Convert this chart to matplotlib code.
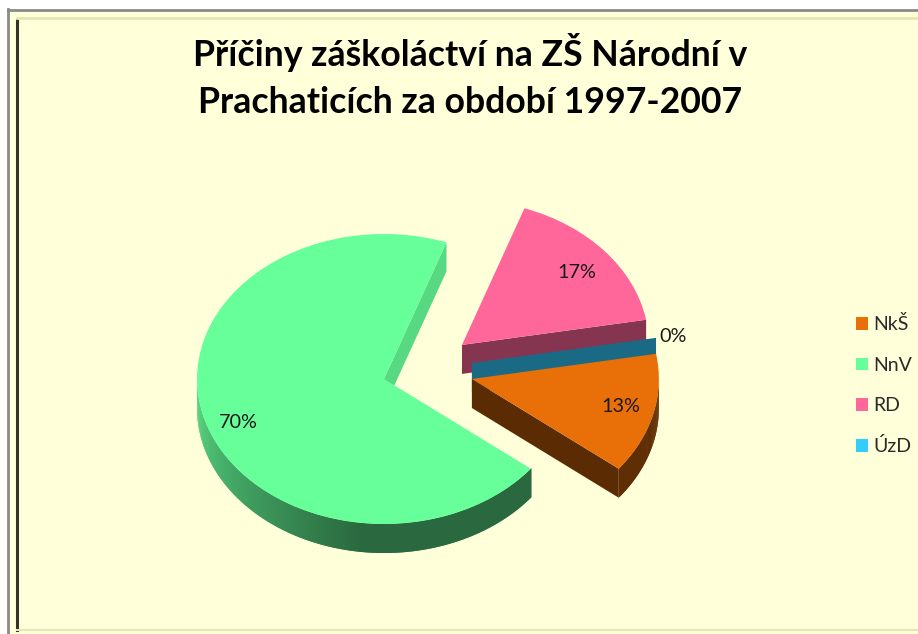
import matplotlib
matplotlib.use('Agg')
import matplotlib.pyplot as plt
import numpy as np
from matplotlib.patches import Patch, Rectangle, Polygon
from matplotlib.lines import Line2D

labels = ['NkŠ', 'NnV', 'RD', 'ÚzD']
shares = [13.4, 69.8, 16.8, 0]
title = 'Příčiny záškoláctví na ZŠ Národní v\nPrachaticích za období 1997-2007'

colors = ['#E97009', '#66FF99', '#FF6699', '#33CCFF']
wall_shade = [0.39, 0.85, 0.52, 0.52]
# slice offset from the pie centre, in pie radii (x, y)
offsets = [(0.47, 0.0), (0.0, 0.0), (0.417, 0.235), (0.47, 0.11)]
draw_order = [1, 2, 3, 0]
label_pos = [(621, 406), (238, 422), (577, 273), (673, 336)]

W, H = 918, 634
CX, CY, RX, RY = 384, 379, 187, 145
DEPTH = 29 / RY
BG = '#FFFFD9'

plt.rcParams['font.family'] = ['Lato', 'DejaVu Sans']
fig = plt.figure(figsize=(W / 100, H / 100), dpi=100, facecolor='white')


def fx(px):
    return px / W


def fy(py):
    return 1 - py / H


# window frame
fig.add_artist(Rectangle((fx(8), 0), 1, fy(9), transform=fig.transFigure, fc=BG, ec='none', zorder=-5))
fig.add_artist(Line2D([fx(8), fx(8)], [0, fy(9)], color='#8A8A8A', lw=2, zorder=-4))
fig.add_artist(Line2D([fx(8), 1], [fy(10), fy(10)], color='#8A8A8A', lw=2, zorder=-4))
fig.add_artist(Line2D([fx(17), fx(17)], [fy(630), fy(20)], color='#33332A', lw=2.2, zorder=-4))
fig.add_artist(Line2D([fx(17), 1], [fy(18), fy(18)], color='#E6E6B4', lw=2, zorder=-4))
fig.add_artist(Line2D([fx(17), 1], [fy(630), fy(630)], color='#E6E6B4', lw=1.5, zorder=-4))

ax = fig.add_axes([0, 0, 1, 1])
ax.patch.set_alpha(0)
wedges, _ = ax.pie(shares, startangle=10, counterclock=False, colors=colors, radius=1)
ax.set_aspect('auto')
ax.set_xlim(-CX / RX, (W - CX) / RX)
ax.set_ylim((CY - H) / RY, CY / RY)
ax.set_axis_off()


def shade(color, f):
    return tuple(c * f for c in matplotlib.colors.to_rgb(color))


for rank, i in enumerate(draw_order):
    w = wedges[i]
    ox, oy = offsets[i]
    z = 2 + rank * 3
    w.set_center((ox, oy))
    w.set_zorder(z + 2)
    w.set_linewidth(0)

    # flat side walls along the two cut edges, only where they face the viewer
    for theta, normal in ((w.theta1, w.theta1 - 90), (w.theta2, w.theta2 + 90)):
        if np.sin(np.radians(normal)) < 0:
            ex = ox + np.cos(np.radians(theta))
            ey = oy + np.sin(np.radians(theta))
            ax.add_patch(Polygon([(ox, oy), (ex, ey), (ex, ey - DEPTH), (ox, oy - DEPTH)],
                                 fc=shade(colors[i], wall_shade[i]), ec='none', zorder=z))

    # curved outer wall, lower half of the rim only, strips overlap to hide seams
    angles = np.arange(w.theta1, w.theta2 + 0.5, 0.5)
    angles = np.mod(angles, 360) - 360
    angles = np.sort(angles[(angles >= -180) & (angles <= 0)])
    for k in range(len(angles) - 1):
        a0 = angles[k]
        a1 = angles[min(k + 2, len(angles) - 1)]
        if angles[k + 1] - a0 > 1:
            continue
        arc = np.radians([a0, (a0 + a1) / 2, a1])
        xs = ox + np.cos(arc)
        ys = oy + np.sin(arc)
        f = np.interp(a0, [-180, -97], [0.85, 0.41])
        ax.add_patch(Polygon(list(zip(xs, ys)) + list(zip(xs[::-1], ys[::-1] - DEPTH)),
                             fc=shade(colors[i], f), ec='none', zorder=z + 1))

for v, (px, py) in zip(shares, label_pos):
    ax.text(fx(px), fy(py), f'{v:.0f}%', transform=fig.transFigure, ha='center', va='center',
            fontsize=14.3, color='#1A1A1A', zorder=30)

fig.text(fx(470), fy(76), title, ha='center', va='center', fontsize=25.7, fontweight='bold',
         color='black', linespacing=1.5)

handles = [Patch(fc=c, ec='none') for c in colors]
leg = ax.legend(handles, labels, loc='center left', bbox_to_anchor=(fx(856), fy(385.5)),
                bbox_transform=fig.transFigure, frameon=False, fontsize=14,
                borderaxespad=0, borderpad=0,
                handlelength=0.62, handleheight=0.62, handletextpad=0.28, labelspacing=1.2,
                labelcolor='#2A2A2A')
leg.set_zorder(30)

fig.savefig('out.png', dpi=100, facecolor='white')
